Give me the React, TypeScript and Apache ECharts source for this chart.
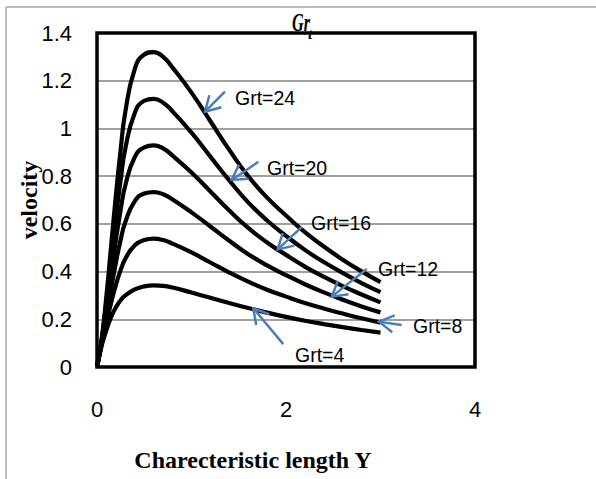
import React, { useEffect, useRef } from "react";
import * as echarts from "echarts";

// x positions (Characteristic length Y)
const xs = [0, 0.05, 0.1, 0.15, 0.2, 0.25, 0.3, 0.4, 0.5, 0.6, 0.7, 0.8, 1.0, 1.2, 1.4, 1.6, 1.8, 2.0, 2.2, 2.4, 2.6, 2.8, 3.0];

// velocity profiles
const grt24 = [0, 0.12, 0.3, 0.51, 0.72, 0.91, 1.07, 1.25, 1.31, 1.32, 1.3, 1.255, 1.15, 1.03, 0.91, 0.8, 0.71, 0.635, 0.565, 0.505, 0.45, 0.401, 0.356];
const grt20 = [0, 0.114, 0.271, 0.45, 0.626, 0.784, 0.916, 1.065, 1.116, 1.124, 1.108, 1.071, 0.982, 0.882, 0.782, 0.69, 0.614, 0.55, 0.491, 0.44, 0.394, 0.352, 0.314];
const grt16 = [0, 0.108, 0.242, 0.39, 0.532, 0.658, 0.762, 0.88, 0.921, 0.929, 0.916, 0.886, 0.815, 0.736, 0.656, 0.583, 0.522, 0.47, 0.421, 0.378, 0.339, 0.304, 0.271];
const grt12 = [0, 0.102, 0.213, 0.33, 0.438, 0.532, 0.608, 0.695, 0.727, 0.733, 0.724, 0.702, 0.648, 0.589, 0.529, 0.473, 0.426, 0.385, 0.347, 0.313, 0.282, 0.254, 0.229];
const grt8 = [0, 0.096, 0.184, 0.27, 0.344, 0.406, 0.454, 0.51, 0.532, 0.538, 0.532, 0.517, 0.48, 0.438, 0.396, 0.358, 0.324, 0.295, 0.268, 0.245, 0.224, 0.204, 0.186];
const grt4 = [0, 0.09, 0.155, 0.21, 0.25, 0.28, 0.3, 0.325, 0.338, 0.342, 0.34, 0.333, 0.312, 0.29, 0.268, 0.247, 0.228, 0.21, 0.194, 0.18, 0.167, 0.155, 0.144];

const curves = [grt24, grt20, grt16, grt12, grt8, grt4];

// annotation arrows (data coordinates): tail, tip, label anchor
const labelTexts = ["Grt=24", "Grt=20", "Grt=16", "Grt=12", "Grt=8", "Grt=4"];
const arrowTails = [[1.354, 1.154], [1.707, 0.86], [2.166, 0.586], [2.854, 0.411], [3.224, 0.176], [1.971, 0.096]];
const arrowTips = [[1.143, 1.07], [1.425, 0.784], [1.912, 0.493], [2.484, 0.295], [2.984, 0.19], [1.654, 0.246]];
const labelAnchors = [[1.46, 1.127], [1.799, 0.835], [2.265, 0.602], [2.974, 0.409], [3.344, 0.172], [2.095, 0.05]];

const xTicks = { min: 0, max: 4, interval: 2 };
const yTicks = { min: 0, max: 1.4, interval: 0.2 };

export default function App() {
  const ref = useRef<HTMLDivElement>(null);
  useEffect(() => {
    document.body.style.margin = "0";
    if (!ref.current) return;
    const chart = echarts.init(ref.current, undefined, { renderer: "svg" });
    const arrowColor = "#4a7ebb";
    const arrowData = arrowTails.map((t, i) => [t[0], t[1], arrowTips[i][0], arrowTips[i][1], labelAnchors[i][0], labelAnchors[i][1]]);
    const option: any = {
      animation: false,
      backgroundColor: "#fff",
      grid: { left: 97, right: 121, top: 33, bottom: 112, show: true, borderColor: "#000", borderWidth: 3.5, backgroundColor: "transparent", z: 3 },
      xAxis: {
        type: "value",
        ...xTicks,
        axisLine: { show: false },
        axisTick: { show: false },
        splitLine: { show: false },
        axisLabel: { fontSize: 22, fontFamily: "Liberation Sans", color: "#000", margin: 31 },
      },
      yAxis: {
        type: "value",
        ...yTicks,
        axisLine: { show: false },
        axisTick: { show: false },
        splitLine: { show: true, lineStyle: { color: "#a0a0a0", width: 2 } },
        axisLabel: {
          fontSize: 22,
          fontFamily: "Liberation Sans",
          color: "#000",
          margin: 25,
          formatter: (v: number) => String(Math.round(v * 10) / 10),
        },
      },
      graphic: [
        { type: "line", shape: { x1: 6, y1: 7, x2: 596, y2: 7 }, style: { stroke: "#a6a6a6", lineWidth: 1.5 }, silent: true },
        { type: "line", shape: { x1: 6, y1: 7, x2: 6, y2: 479 }, style: { stroke: "#a6a6a6", lineWidth: 1.5 }, silent: true },
        {
          type: "text",
          x: 253,
          y: 460,
          style: { text: "Charecteristic length Y", fontFamily: "Liberation Serif", fontWeight: "bold", fontSize: 24, fill: "#000", align: "center", verticalAlign: "middle" },
        },
        {
          type: "text",
          x: 29,
          y: 200,
          rotation: Math.PI / 2,
          style: { text: "velocity", fontFamily: "Liberation Serif", fontWeight: "bold", fontSize: 24, fill: "#000", align: "center", verticalAlign: "middle" },
        },
        {
          type: "text",
          x: 292,
          y: 36,
          scaleX: 0.62,
          z: 100,
          style: { text: "Gr", fontFamily: "Liberation Serif", fontStyle: "italic", fontWeight: "bold", fontSize: 26, fill: "#000", align: "left", verticalAlign: "bottom" },
        },
        {
          type: "text",
          x: 308,
          y: 41,
          z: 100,
          style: { text: "t", fontFamily: "Liberation Serif", fontStyle: "italic", fontWeight: "bold", fontSize: 15, fill: "#000", align: "left", verticalAlign: "bottom" },
        },
      ],
      series: [
        ...curves.map((c, k) => ({
          type: "line",
          name: labelTexts[k],
          data: xs.map((x, i) => [x, c[i]]),
          symbol: "none",
          smooth: 0.5,
          silent: true,
          z: 4,
          lineStyle: { color: "#000", width: 4.2 },
        })),
        {
          type: "custom",
          coordinateSystem: "cartesian2d",
          clip: false,
          silent: true,
          z: 5,
          encode: { x: [0, 2, 4], y: [1, 3, 5] },
          data: arrowData,
          renderItem: (params: any, api: any) => {
            const i = params.dataIndex;
            const tail = api.coord([api.value(0), api.value(1)]);
            const tip = api.coord([api.value(2), api.value(3)]);
            const lab = api.coord([api.value(4), api.value(5)]);
            const dx = tail[0] - tip[0];
            const dy = tail[1] - tip[1];
            const len = Math.hypot(dx, dy) || 1;
            const ux = dx / len;
            const uy = dy / len;
            const L = 17;
            const a = Math.PI / 6;
            const rot = (x: number, y: number, t: number) => [x * Math.cos(t) - y * Math.sin(t), x * Math.sin(t) + y * Math.cos(t)];
            const r1 = rot(ux, uy, a);
            const r2 = rot(ux, uy, -a);
            return {
              type: "group",
              children: [
                { type: "line", shape: { x1: tail[0], y1: tail[1], x2: tip[0], y2: tip[1] }, style: { stroke: arrowColor, lineWidth: 2.5 } },
                {
                  type: "polyline",
                  shape: { points: [[tip[0] + r1[0] * L, tip[1] + r1[1] * L], [tip[0], tip[1]], [tip[0] + r2[0] * L, tip[1] + r2[1] * L]] },
                  style: { stroke: arrowColor, lineWidth: 2.5, fill: null },
                },
                {
                  type: "text",
                  x: lab[0],
                  y: lab[1],
                  style: { text: labelTexts[i], fontFamily: "Liberation Sans", fontSize: 19.5, fill: "#000", align: "left", verticalAlign: "middle" },
                },
              ],
            };
          },
        },
      ],
    };
    chart.setOption(option);
    return () => chart.dispose();
  }, []);
  return <div ref={ref} style={{ width: 596, height: 479 }} />;
}
